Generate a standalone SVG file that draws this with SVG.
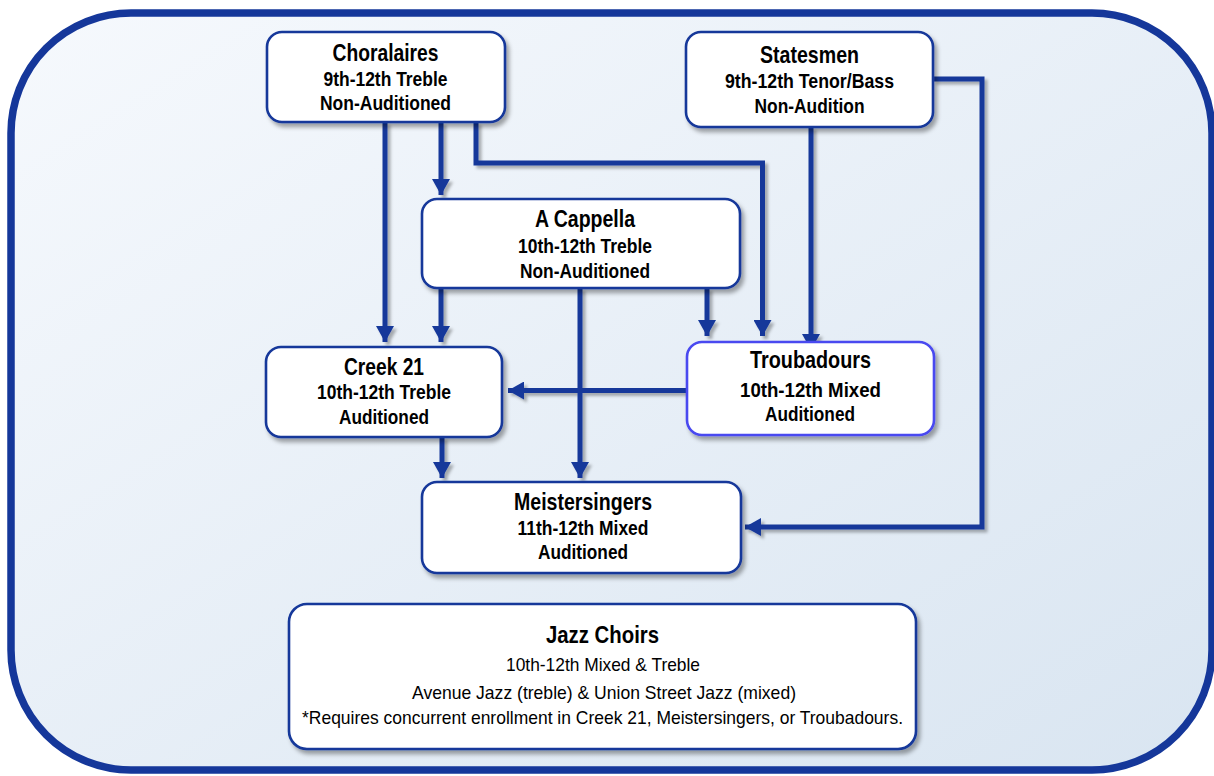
<svg xmlns="http://www.w3.org/2000/svg" width="1214" height="776" viewBox="0 0 1214 776">
<defs>
<linearGradient id="bg" x1="0" y1="0" x2="1" y2="1">
<stop offset="0" stop-color="#f6f9fd"/>
<stop offset="1" stop-color="#d9e5f1"/>
</linearGradient>
<filter id="sh" x="-20%" y="-20%" width="140%" height="140%">
<feDropShadow dx="3" dy="4" stdDeviation="2.2" flood-color="#000" flood-opacity="0.35"/>
</filter>
<filter id="lsh" x="-20%" y="-20%" width="140%" height="140%">
<feDropShadow dx="3" dy="3" stdDeviation="1.8" flood-color="#000" flood-opacity="0.3"/>
</filter>
<marker id="ah" markerUnits="userSpaceOnUse" markerWidth="18" markerHeight="18" viewBox="0 0 16 18" refX="16" refY="9" orient="auto">
<path d="M0,0 L16,9 L0,18 z" fill="#15379a"/>
</marker>
<style>
.node{fill:#fff;stroke:#15379a;stroke-width:2.6;filter:url(#sh)}
.node2{fill:#fff;stroke:#4848f0;stroke-width:2.6;filter:url(#sh)}
.t{font-family:"Liberation Sans",Arial,sans-serif;font-weight:bold;fill:#000;text-anchor:middle}
.h{font-size:24px}
.s{font-size:21px}
.r{font-family:"Liberation Sans",Arial,sans-serif;font-weight:normal;fill:#000;text-anchor:middle;font-size:19px}
.c{fill:none;stroke:#15379a;stroke-width:5;marker-end:url(#ah)}
</style>
</defs>
<rect x="0" y="0" width="1214" height="776" fill="#fff"/>
<rect id="frame" x="11" y="13" width="1201" height="757" rx="120" ry="120" fill="url(#bg)" stroke="#15379a" stroke-width="7.5"/>

<g id="connectors" filter="url(#lsh)">
<path class="c" d="M385,122 V342"/>
<path class="c" d="M441,122 V195"/>
<path class="c" d="M476,122 V163 H762.5 V336"/>
<path class="c" d="M441,288 V342"/>
<path class="c" d="M580,288 V478"/>
<path class="c" d="M707,288 V336"/>
<path class="c" d="M811,127 V350"/>
<path class="c" d="M933,79 H982 V527 H745"/>
<path class="c" d="M687,390.5 H508"/>
<path class="c" d="M442,437 V478"/>
</g>

<g id="choralaires">
<rect class="node" x="267" y="32" width="238" height="90" rx="15"/>
<text class="t h" x="385.5" y="61" textLength="106" lengthAdjust="spacingAndGlyphs">Choralaires</text>
<text class="t s" x="385.5" y="86" textLength="124" lengthAdjust="spacingAndGlyphs">9th-12th Treble</text>
<text class="t s" x="385.5" y="110" textLength="131" lengthAdjust="spacingAndGlyphs">Non-Auditioned</text>
</g>

<g id="statesmen">
<rect class="node" x="686" y="32" width="247" height="95" rx="15"/>
<text class="t h" x="809.5" y="63" textLength="99" lengthAdjust="spacingAndGlyphs">Statesmen</text>
<text class="t s" x="809.5" y="88" textLength="169" lengthAdjust="spacingAndGlyphs">9th-12th Tenor/Bass</text>
<text class="t s" x="809.5" y="113" textLength="110" lengthAdjust="spacingAndGlyphs">Non-Audition</text>
</g>

<g id="acappella">
<rect class="node" x="422" y="199" width="318" height="89" rx="15"/>
<text class="t h" x="585" y="227" textLength="100" lengthAdjust="spacingAndGlyphs">A Cappella</text>
<text class="t s" x="585" y="253" textLength="134" lengthAdjust="spacingAndGlyphs">10th-12th Treble</text>
<text class="t s" x="585" y="278" textLength="130" lengthAdjust="spacingAndGlyphs">Non-Auditioned</text>
</g>

<g id="creek21">
<rect class="node" x="266" y="347" width="236" height="90" rx="15"/>
<text class="t h" x="384" y="375" textLength="80" lengthAdjust="spacingAndGlyphs">Creek 21</text>
<text class="t s" x="384" y="399" textLength="134" lengthAdjust="spacingAndGlyphs">10th-12th Treble</text>
<text class="t s" x="384" y="424" textLength="90" lengthAdjust="spacingAndGlyphs">Auditioned</text>
</g>

<g id="troubadours">
<rect class="node2" x="687" y="342" width="247" height="93" rx="15"/>
<text class="t h" x="810.5" y="368" textLength="121" lengthAdjust="spacingAndGlyphs">Troubadours</text>
<text class="t s" x="810.5" y="397" textLength="141" lengthAdjust="spacingAndGlyphs">10th-12th Mixed</text>
<text class="t s" x="810" y="421" textLength="90" lengthAdjust="spacingAndGlyphs">Auditioned</text>
</g>

<g id="meistersingers">
<rect class="node" x="422" y="482" width="319" height="91" rx="15"/>
<text class="t h" x="583" y="510" textLength="138" lengthAdjust="spacingAndGlyphs">Meistersingers</text>
<text class="t s" x="583" y="535" textLength="131" lengthAdjust="spacingAndGlyphs">11th-12th Mixed</text>
<text class="t s" x="583" y="559" textLength="90" lengthAdjust="spacingAndGlyphs">Auditioned</text>
</g>

<g id="jazzchoirs">
<rect class="node" x="289" y="604" width="627" height="145" rx="18"/>
<text class="t" x="602.5" y="643" font-size="24" textLength="113" lengthAdjust="spacingAndGlyphs">Jazz Choirs</text>
<text class="r" x="603" y="671" textLength="194" lengthAdjust="spacingAndGlyphs">10th-12th Mixed &amp; Treble</text>
<text class="r" x="604" y="699" textLength="384" lengthAdjust="spacingAndGlyphs">Avenue Jazz (treble) &amp; Union Street Jazz (mixed)</text>
<text class="r" x="602.5" y="724" textLength="601" lengthAdjust="spacingAndGlyphs">*Requires concurrent enrollment in Creek 21, Meistersingers, or Troubadours.</text>
</g>
</svg>
